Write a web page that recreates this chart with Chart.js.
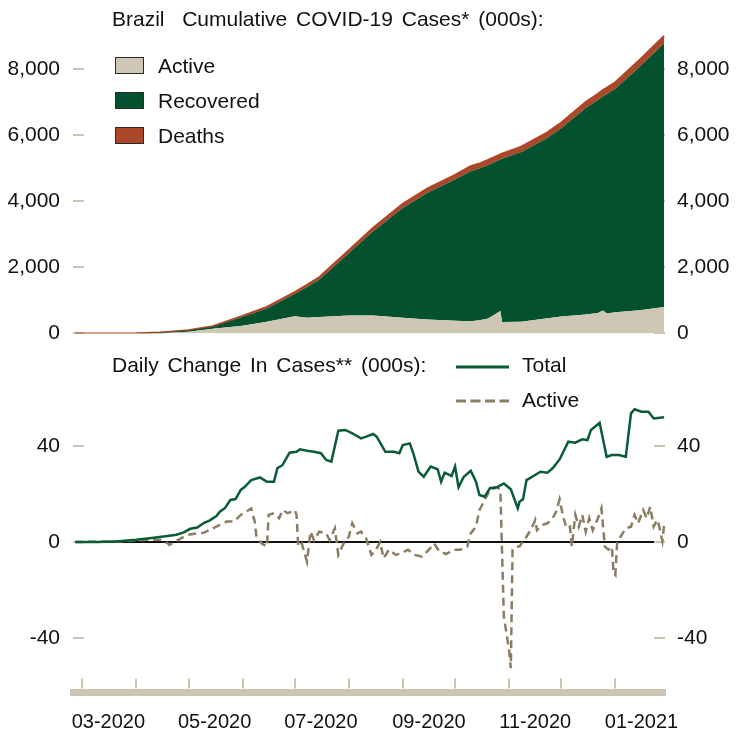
<!DOCTYPE html>
<html>
<head>
<meta charset="utf-8">
<script src="https://cdn.jsdelivr.net/npm/chart.js@4.4.0/dist/chart.umd.min.js"></script>
<style>
  body { margin: 0; width: 748px; height: 732px; background: #fff; position: relative; overflow: hidden;
    font-family: "Liberation Sans", Arial, sans-serif; color: #111; }
  .txt { position: absolute; font-size: 21px; line-height: 24px; white-space: pre; }
  .ttl { word-spacing: 3px; }
  .box { position: absolute; left: 115px; width: 29px; height: 17px; box-sizing: border-box; border: 1px solid #2a2a2a; }
  #top { position: absolute; left: 0; top: 0; }
  #bot { position: absolute; left: 0; top: 345px; }
  svg { position: absolute; }
</style>
</head>
<body>
<canvas id="top" width="748" height="359"></canvas>
<canvas id="bot" width="748" height="387"></canvas>

<div class="txt ttl" style="left:112px; top:7px;">Brazil  Cumulative COVID-19 Cases* (000s):</div>
<div class="box" style="top:57px; background:#cec7b4;"></div>
<div class="txt" style="left:158px; top:54px;">Active</div>
<div class="box" style="top:92px; background:#03512f;"></div>
<div class="txt" style="left:158px; top:89px;">Recovered</div>
<div class="box" style="top:127px; background:#ab4829;"></div>
<div class="txt" style="left:158px; top:124px;">Deaths</div>

<div class="txt ttl" style="left:112px; top:353px;">Daily Change In Cases** (000s):</div>
<svg style="left:456px; top:360px;" width="54" height="14"><line x1="0" y1="7" x2="53" y2="7" stroke="#0a5c36" stroke-width="3"/></svg>
<div class="txt" style="left:522px; top:353px;">Total</div>
<svg style="left:456px; top:394px;" width="54" height="14"><line x1="0" y1="7" x2="53" y2="7" stroke="#8a7d62" stroke-width="3" stroke-dasharray="10 4.5"/></svg>
<div class="txt" style="left:522px; top:388px;">Active</div>

<script>
// x values are days counted from 1 March 2020
const xMin = -5.3, xMax = 334.5;

// cumulative cases, thousands
const cumDates = ['2020-02-26','2020-03-15','2020-04-01','2020-04-15','2020-05-01','2020-05-15','2020-06-01',
  '2020-06-15','2020-07-01','2020-07-08','2020-07-15','2020-08-01','2020-08-15','2020-09-01','2020-09-15',
  '2020-10-01','2020-10-10','2020-10-15','2020-10-20','2020-10-27','2020-10-28','2020-11-08','2020-11-22',
  '2020-12-01','2020-12-15','2020-12-22','2020-12-25','2020-12-27','2021-01-01','2021-01-15','2021-01-29'];
const activeCum = [0,0.2,6,12,48,140,235,350,520,470,500,540,540,470,420,
  380,370,400,450,680,345,350,450,510,570,620,690,600,640,700,800];
const recoveredCum = [0,0,0.1,14.3,37.7,65,265,407,670,932,1124,1887,2554,3328,3826,
  4276,4540,4588,4646,4583,4937,5138,5431,5697,6248,6443,6490,6639,6765,7372,7978];
const deathsCum = [0,0,0.2,1.7,6.3,15,30,43,60,68,76,93,106,122,134,
  144,150,152,154,157,158,162,169,173,182,187,190,191,195,208,222];

// daily change, thousands
const totalDates = ['2020-02-26','2020-03-10','2020-03-22','2020-04-01','2020-04-11','2020-04-19','2020-04-24',
  '2020-04-28','2020-05-02','2020-05-06','2020-05-10','2020-05-13','2020-05-17','2020-05-19','2020-05-22',
  '2020-05-25','2020-05-28','2020-05-31','2020-06-02','2020-06-06','2020-06-11','2020-06-15','2020-06-19',
  '2020-06-21','2020-06-24','2020-06-28','2020-07-02','2020-07-04','2020-07-08','2020-07-12','2020-07-16',
  '2020-07-19','2020-07-22','2020-07-26','2020-07-30','2020-08-03','2020-08-08','2020-08-11','2020-08-15',
  '2020-08-17','2020-08-22','2020-08-27','2020-08-30','2020-09-01','2020-09-05','2020-09-07','2020-09-10',
  '2020-09-13','2020-09-17','2020-09-21','2020-09-23','2020-09-25','2020-09-29','2020-10-01','2020-10-03',
  '2020-10-06','2020-10-10','2020-10-13','2020-10-15','2020-10-18','2020-10-21','2020-10-25','2020-10-29',
  '2020-11-02','2020-11-06','2020-11-07','2020-11-09','2020-11-11','2020-11-15','2020-11-19','2020-11-23',
  '2020-11-26','2020-11-30','2020-12-05','2020-12-09','2020-12-13','2020-12-16','2020-12-18','2020-12-23',
  '2020-12-25','2020-12-27','2020-12-30','2021-01-03','2021-01-07','2021-01-10','2021-01-12','2021-01-16',
  '2021-01-20','2021-01-23','2021-01-29'];
const totalChange = [0,0.05,0.3,0.9,1.8,2.5,3.0,
  3.9,5.5,6.0,8.0,8.9,10.8,12.6,14.2,
  17.5,17.9,21.7,22.8,25.8,26.9,25.1,25.1,
  30.7,32.1,37.2,37.6,38.6,38.0,37.6,37.0,
  34.2,33.5,46.4,46.7,45.3,43.2,43.9,45.0,
  43.9,37.6,37.6,37.0,40.4,41.1,37.0,29.3,
  27.2,31.4,30.3,25.1,28.9,27.5,31.4,22.8,
  27.2,29.7,25.1,19.6,18.9,22.4,22.8,24.4,
  22.0,14.0,16.8,17.8,25.8,27.5,29.3,28.9,
  30.7,34.4,41.8,41.4,42.8,42.5,46.7,49.7,
  42.5,35.5,36.2,36.2,35.5,53.6,55.3,54.3,
  54.3,51.5,52.0];

const activeDates = ['2020-02-26','2020-03-20','2020-04-07','2020-04-15','2020-04-19','2020-04-20','2020-04-24',
  '2020-04-30','2020-05-06','2020-05-10','2020-05-13','2020-05-17','2020-05-19','2020-05-23','2020-05-27',
  '2020-05-31','2020-06-03','2020-06-06','2020-06-08','2020-06-09','2020-06-12','2020-06-15','2020-06-16',
  '2020-06-19','2020-06-22','2020-06-24','2020-06-27','2020-07-01','2020-07-02','2020-07-03','2020-07-05',
  '2020-07-08','2020-07-10','2020-07-12','2020-07-15','2020-07-19','2020-07-21','2020-07-24','2020-07-26',
  '2020-07-29','2020-08-01','2020-08-03','2020-08-06','2020-08-08','2020-08-11','2020-08-14','2020-08-16',
  '2020-08-19','2020-08-21','2020-08-24','2020-08-28','2020-08-31','2020-09-04','2020-09-08','2020-09-12',
  '2020-09-16','2020-09-19','2020-09-22','2020-09-26','2020-09-30','2020-10-04','2020-10-08','2020-10-10',
  '2020-10-13','2020-10-15','2020-10-18','2020-10-21','2020-10-25','2020-10-27','2020-10-28','2020-10-29',
  '2020-11-01','2020-11-02','2020-11-03','2020-11-05','2020-11-07','2020-11-09','2020-11-11','2020-11-14',
  '2020-11-16','2020-11-17','2020-11-20','2020-11-23','2020-11-26','2020-11-28','2020-11-30','2020-12-02',
  '2020-12-04','2020-12-06','2020-12-07','2020-12-09','2020-12-11','2020-12-13','2020-12-15','2020-12-17',
  '2020-12-19','2020-12-22','2020-12-24','2020-12-26','2020-12-28','2020-12-30','2020-12-31','2021-01-01',
  '2021-01-02','2021-01-04','2021-01-07','2021-01-10','2021-01-12','2021-01-14','2021-01-17','2021-01-19',
  '2021-01-21','2021-01-23','2021-01-25','2021-01-26','2021-01-28','2021-01-29'];
const activeChange = [0,0.2,0.9,0.9,-0.5,-1.2,0.4,
  2.9,3.6,3.9,5.0,6.4,7.1,8.5,8.5,
  11.3,12.6,14.0,8.5,2.2,-0.6,-1.9,11.3,
  12.0,9.9,13.3,12.0,13.3,11.3,-1.9,-0.6,
  -8.2,4.3,0.8,4.3,3.6,0.8,5.7,-5.4,
  -0.6,2.2,7.8,3.6,4.3,1.4,-5.4,-4.0,
  0,-6.8,-3.2,-5.4,-4.7,-3.2,-5.4,-6.1,
  -3.2,-0.6,-4.0,-5.0,-3.2,-3.2,-1.9,3.6,
  6.4,13.3,17.5,21.7,22.8,21.7,-5,-31,
  -45,-52.6,-3.2,-1.9,-1.9,0.5,2.2,5.7,
  9.2,4.9,7.1,7.8,9.9,12.6,17.8,10.6,
  5.7,6.4,-1.9,11.3,6.4,11.3,4.3,9.9,
  4.9,9.9,14.0,-1.9,-3.2,-1.9,-13.1,-13.8,
  -0.6,2.2,5.7,6.4,11.3,7.8,13.3,9.9,
  14.7,6.4,9.2,7.1,0.4,7.1];

// x axis: month starts get a tick mark, labels sit mid-month
const monthStarts = ['2020-03-01','2020-04-01','2020-05-01','2020-06-01','2020-07-01','2020-08-01',
  '2020-09-01','2020-10-01','2020-11-01','2020-12-01','2021-01-01'];
const monthLabels = ['03-2020','05-2020','07-2020','09-2020','11-2020','01-2021'];
const labelDates = ['2020-03-16','2020-05-16','2020-07-16','2020-09-16','2020-11-16','2021-01-16'];

const topTicks = [0, 2000, 4000, 6000, 8000];
const botTicks = [-40, 0, 40];

const tan = '#cdc5b1';
const day0 = Date.UTC(2020, 2, 1);
function toDay(s) {
  const p = s.split('-');
  return (Date.UTC(+p[0], +p[1] - 1, +p[2]) - day0) / 864e5;
}
function pts(dates, vals) {
  return dates.map((d, i) => ({ x: toDay(d), y: vals[i] }));
}

Chart.defaults.font.family = '"Liberation Sans", Arial, sans-serif';
Chart.defaults.font.size = 21;
Chart.defaults.color = '#111';

// short tan marks inside the plot, under the data
const tickMarks = {
  id: 'tickMarks',
  beforeDatasetsDraw(chart) {
    const { ctx, chartArea: a, scales } = chart;
    ctx.save();
    ctx.strokeStyle = tan;
    ctx.lineWidth = 2;
    ctx.beginPath();
    scales.y.ticks.forEach(t => {
      const py = Math.round(scales.y.getPixelForValue(t.value));
      ctx.moveTo(a.left, py); ctx.lineTo(a.left + 11, py);
      ctx.moveTo(a.right - 11, py); ctx.lineTo(a.right, py);
    });
    if (chart.canvas.id === 'bot') {
      monthStarts.forEach(m => {
        const px = Math.round(scales.x.getPixelForValue(toDay(m)));
        ctx.moveTo(px, a.bottom - 3.5); ctx.lineTo(px, a.bottom - 13.5);
      });
    }
    ctx.stroke();
    ctx.restore();
  }
};

function yAxes(min, max, ticks, zeroLine) {
  const common = (pos, pad, w) => ({
    position: pos,
    min: min, max: max,
    afterBuildTicks: s => { s.ticks = ticks.map(v => ({ value: v })); },
    afterFit: s => { s.width = w; },
    border: { display: false },
    grid: { display: false, drawTicks: false },
    ticks: { padding: pad, callback: v => v.toLocaleString('en-US') }
  });
  const left = common('left', 13, 73);
  const right = common('right', 12, 83);
  if (zeroLine) {
    left.grid = {
      display: true, drawTicks: false, lineWidth: 2,
      color: c => (c.tick && c.tick.value === 0 ? '#111' : 'rgba(0,0,0,0)')
    };
  }
  return { y: left, y2: right };
}

const topY = yAxes(0, 9182, topTicks, false);
topY.y.stacked = true;
topY.y2.stacked = true;

new Chart(document.getElementById('top'), {
  type: 'line',
  data: {
    datasets: [
      { label: 'Active', data: pts(cumDates, activeCum), backgroundColor: '#cec7b4',
        borderWidth: 0, fill: 'origin' },
      { label: 'Recovered', data: pts(cumDates, recoveredCum), backgroundColor: '#03512f',
        borderWidth: 0, fill: '-1' },
      { label: 'Deaths', data: pts(cumDates, deathsCum), backgroundColor: '#ab4829',
        borderColor: '#ab4829', borderWidth: 2, fill: '-1' }
    ]
  },
  options: {
    responsive: false,
    animation: false,
    layout: { padding: { top: 30, bottom: 0, left: 0, right: 0 } },
    elements: { point: { radius: 0 }, line: { tension: 0 } },
    plugins: { legend: { display: false }, tooltip: { enabled: false } },
    scales: Object.assign({
      x: { type: 'linear', min: xMin, max: xMax, display: false }
    }, topY)
  },
  plugins: [tickMarks]
});

new Chart(document.getElementById('bot'), {
  type: 'line',
  data: {
    datasets: [
      { label: 'Total', data: pts(totalDates, totalChange), borderColor: '#0a5c36',
        borderWidth: 2.5, fill: false },
      { label: 'Active', data: pts(activeDates, activeChange), borderColor: '#8a7d62',
        borderWidth: 2.5, borderDash: [8, 5], fill: false }
    ]
  },
  options: {
    responsive: false,
    animation: false,
    layout: { padding: { top: 59, bottom: 0, left: 0, right: 0 } },
    elements: { point: { radius: 0 }, line: { tension: 0 } },
    plugins: { legend: { display: false }, tooltip: { enabled: false } },
    scales: Object.assign({
      x: {
        type: 'linear', min: xMin, max: xMax,
        afterBuildTicks: s => { s.ticks = labelDates.map(d => ({ value: toDay(d) })); },
        afterFit: s => { s.height = 40; },
        grid: { display: false, drawTicks: false },
        border: { display: true, color: tan, width: 7 },
        ticks: {
          padding: 18, maxRotation: 0, autoSkip: false,
          font: { size: 20 },
          callback: (v, i) => monthLabels[i]
        }
      }
    }, yAxes(-62.5, 57.5, botTicks, true))
  },
  plugins: [tickMarks]
});
</script>
</body>
</html>
